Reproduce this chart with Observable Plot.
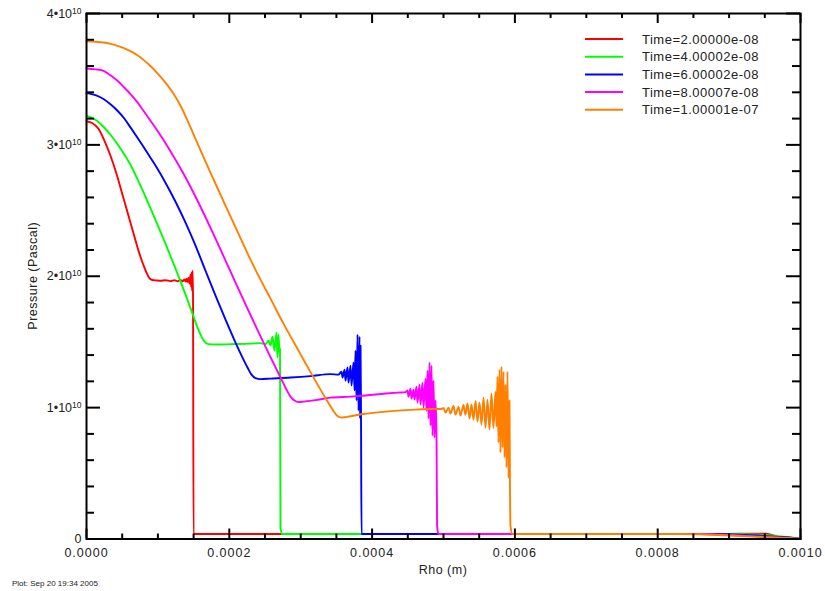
<!DOCTYPE html>
<html><head><meta charset="utf-8">
<script src="https://cdn.jsdelivr.net/npm/d3@7"></script>
<script src="https://cdn.jsdelivr.net/npm/@observablehq/plot@0.6"></script>
<style>
body{margin:0;background:#fff;}
svg text{font-family:"Liberation Sans",Arial,Helvetica,sans-serif;}
</style></head><body><div id="chart"></div>
<script>
// x in micrometres, pressure in GPa
const seriesNames = ["Time=2.00000e-08","Time=4.00002e-08","Time=6.00002e-08","Time=8.00007e-08","Time=1.00001e-07"];
const seriesColors = ["#ff0000","#00ff00","#0000ff","#ff00ff","#ff8000"];

const red = [[0,31.80],[8.4,31.65],[16.8,31.23],[25.2,30.31],[33.6,29.17],[42.0,27.80],[50.4,26.21],[58.8,24.61],[67.2,23.01],[72.8,21.95],[77.0,21.26],[81.2,20.65],[84.0,20.27],[86.8,19.97],[89.6,19.78],[93.8,19.70],[98.0,19.68],[103.6,19.66],[110.6,19.70],[117.6,19.63],[123.3,19.70],[127.5,19.62],[131.7,19.72],[134.5,19.61],[137.3,19.76],[138.7,19.60],[140.1,19.82],[141.5,19.55],[142.9,19.89],[144.3,19.44],[145.7,20.12],[146.4,19.21],[147.1,20.27],[147.8,18.90],[148.5,20.42],[149.2,18.37],[149.9,0.38],[300,0.38],[600,0.38],[860,0.38],[916,0.40],[951,0.41],[962,0.27],[976,0.09],[990,0.03],[1000,0]];

const green = [[0,32.22],[12.6,31.91],[23.8,31.38],[33.6,30.77],[43.4,30.05],[53.2,29.25],[61.6,28.49],[71.4,27.39],[82.6,26.05],[96.6,24.30],[110.6,22.48],[124.7,20.58],[138.7,18.60],[148.5,17.15],[155.5,16.09],[161.1,15.40],[165.3,15.02],[170.9,14.83],[180.7,14.80],[201.7,14.83],[229.7,14.87],[243.7,14.91],[250.7,14.83],[254.9,15.10],[257.7,14.72],[260.5,15.40],[263.3,14.34],[266.1,15.71],[267.5,13.81],[268.9,15.56],[270.3,14.19],[271.0,14.50],[271.7,0.80],[274.5,0.38],[500,0.38],[860,0.38],[902,0.38],[944,0.32],[972,0.20],[993,0.07],[1000,0]];

const blue = [[0,33.96],[12.6,33.78],[23.8,33.49],[33.6,33.09],[43.4,32.60],[53.2,31.99],[61.6,31.33],[71.4,30.54],[79.8,29.85],[89.6,29.02],[99.4,28.18],[110.6,27.12],[124.7,25.67],[138.7,24.08],[152.7,22.33],[166.7,20.42],[180.7,18.52],[194.7,16.70],[208.7,14.95],[218.5,13.81],[225.5,13.05],[231.1,12.51],[236.7,12.25],[243.7,12.17],[257.7,12.21],[285.7,12.29],[313.7,12.40],[341.7,12.55],[352.9,12.51],[357.2,12.74],[358.6,12.29],[361.4,12.89],[362.8,12.06],[365.6,13.05],[367.0,11.90],[369.8,13.20],[371.2,11.68],[374.0,13.43],[375.4,11.30],[376.8,14.34],[378.2,10.54],[379.6,15.56],[381.0,9.77],[382.4,15.40],[383.1,9.17],[383.8,14.72],[384.5,9.01],[385.2,0.38],[600,0.38],[860,0.38],[888,0.38],[923,0.30],[965,0.18],[993,0.06],[1000,0]];

const magenta = [[0,35.81],[12.6,35.75],[23.8,35.64],[33.6,35.30],[43.4,34.88],[53.2,34.35],[61.6,33.87],[71.4,33.24],[79.8,32.60],[89.6,31.84],[99.4,31.07],[117.6,29.52],[135.9,27.80],[152.7,26.05],[166.7,24.49],[180.7,22.86],[194.7,21.19],[208.7,19.51],[225.5,17.53],[240.9,15.75],[257.7,13.84],[271.7,12.29],[280.1,11.37],[285.7,10.84],[291.3,10.54],[296.9,10.42],[303.9,10.46],[320.7,10.57],[341.7,10.76],[369.8,10.84],[390.7,10.92],[418.8,11.07],[435.6,11.14],[446.8,11.18],[449.6,11.30],[451.0,10.84],[453.8,11.45],[455.2,10.69],[458.0,11.37],[459.4,10.61],[462.2,11.60],[463.6,10.38],[466.4,11.75],[467.8,10.23],[470.6,11.90],[472.0,10.00],[474.8,12.21],[476.2,9.77],[477.6,12.82],[479.0,9.17],[480.4,13.43],[481.8,8.63],[483.2,13.20],[484.6,7.87],[486.0,12.06],[487.4,7.72],[488.8,10.54],[490.2,8.00],[491.0,1.00],[493.0,0.38],[700,0.38],[860,0.38],[902,0.30],[951,0.17],[986,0.08],[1000,0]];

const orange = [[0,37.88],[12.6,37.85],[23.8,37.79],[33.6,37.69],[43.4,37.54],[53.2,37.35],[61.6,37.14],[71.4,36.82],[79.8,36.47],[89.6,36.00],[99.4,35.45],[110.6,34.74],[120.5,34.00],[131.7,32.98],[142.9,31.68],[154.1,30.28],[166.7,28.72],[180.7,27.04],[194.7,25.37],[211.5,23.39],[229.7,21.26],[243.7,19.74],[257.7,18.30],[275.9,16.39],[299.7,14.07],[313.7,12.70],[327.7,11.37],[338.9,10.35],[345.9,9.74],[351.5,9.36],[357.2,9.24],[362.8,9.28],[387.9,9.51],[411.8,9.66],[435.6,9.77],[460.8,9.85],[481.8,9.89],[495.8,9.89],[500.0,9.97],[502.8,9.62],[507.0,10.00],[509.8,9.55],[514.0,10.12],[516.8,9.47],[521.0,10.05],[523.8,9.39],[528.0,10.20],[530.8,9.45],[533.6,10.31],[536.4,9.17],[539.2,10.25],[542.0,9.09],[544.8,10.50],[547.6,8.94],[550.4,10.40],[553.2,8.70],[556.0,10.75],[558.8,8.48],[561.6,10.60],[564.4,8.33],[567.2,11.07],[570.0,8.45],[572.8,11.22],[574.2,8.56],[575.6,12.36],[577.0,7.34],[578.4,12.89],[579.8,6.58],[581.2,13.12],[582.6,6.96],[584.0,12.74],[585.4,6.20],[586.8,11.75],[588.2,5.44],[589.6,12.74],[591.0,4.64],[592.4,10.54],[593.1,4.00],[593.8,1.00],[596.7,0.38],[700,0.38],[832,0.38],[888,0.30],[944,0.15],[986,0.06],[1000,0]];

const xMajor = [0, 0.0002, 0.0004, 0.0006, 0.0008, 0.001];
const xMinor = [0.00005,0.0001,0.00015,0.00025,0.0003,0.00035,0.00045,0.0005,0.00055,0.00065,0.0007,0.00075,0.00085,0.0009,0.00095];
const yMajor = [0, 1e10, 2e10, 3e10, 4e10];
const yMinor = [2e9,4e9,6e9,8e9,1.2e10,1.4e10,1.6e10,1.8e10,2.2e10,2.4e10,2.6e10,2.8e10,3.2e10,3.4e10,3.6e10,3.8e10];
const yTickBase = ["0","1•10","2•10","3•10","4•10"];
const yTickExp = ["","10","10","10","10"];

const xTitle = "Rho (m)";
const yTitle = "Pressure (Pascal)";
const caption = "Plot: Sep 20 19:34 2005";

const all = [red, green, blue, magenta, orange];
const rows = all.flatMap((arr, i) => arr.map(([x, p]) => ({series: seriesNames[i], x: x * 1e-6, p: p * 1e9})));

const W = 825, H = 591, mL = 86, mR = 25, mT = 13, mB = 52.5;
const iw = W - mL - mR, ih = H - mT - mB;

const chart = Plot.plot({
  width: W, height: H,
  marginLeft: mL, marginRight: mR, marginTop: mT, marginBottom: mB,
  style: {fontFamily: '"Liberation Sans", Arial, sans-serif', fontSize: "12.5px", color: "#222", background: "#fff"},
  x: {domain: [0, 0.001], label: null},
  y: {domain: [0, 4e10], label: null},
  color: {domain: seriesNames, range: seriesColors},
  marks: [
    Plot.line(rows, {x: "x", y: "p", z: "series", stroke: "series", strokeWidth: 1.9, curve: "monotone-x"}),
    Plot.tickX(xMajor, {x: d => d, insetTop: ih - 10, stroke: "#000", strokeWidth: 2}),
    Plot.tickX(xMinor, {x: d => d, insetTop: ih - 5, stroke: "#000", strokeWidth: 2}),
    Plot.tickX(xMajor, {x: d => d, insetBottom: ih - 10, stroke: "#000", strokeWidth: 2}),
    Plot.tickX(xMinor, {x: d => d, insetBottom: ih - 5, stroke: "#000", strokeWidth: 2}),
    Plot.tickY(yMajor, {y: d => d, insetRight: iw - 14, stroke: "#000", strokeWidth: 2}),
    Plot.tickY(yMinor, {y: d => d, insetRight: iw - 8, stroke: "#000", strokeWidth: 2}),
    Plot.tickY(yMajor, {y: d => d, insetLeft: iw - 14, stroke: "#000", strokeWidth: 2}),
    Plot.tickY(yMinor, {y: d => d, insetLeft: iw - 8, stroke: "#000", strokeWidth: 2}),
    Plot.axisX(xMajor, {tickSize: 0, tickPadding: 9, tickFormat: d => d.toFixed(4), fill: "#222"}),
    Plot.axisY(yMajor, {tickSize: 0, tickPadding: 5, tickFormat: d => yTickBase[yMajor.indexOf(d)], fill: "#222"}),
    Plot.frame({stroke: "#000", strokeWidth: 2})
  ]
});

document.getElementById("chart").appendChild(chart);
const svg = d3.select(chart);
svg.selectAll('g[aria-label="x-axis tick label"] text').attr("letter-spacing", "1px");
svg.selectAll('g[aria-label="y-axis tick label"] text').each(function () {
  const t = d3.select(this);
  const base = t.text();
  const i = yTickBase.indexOf(base);
  if (i > 0 && yTickExp[i]) {
    t.text(null);
    t.append("tspan").text(base);
    t.append("tspan").attr("dy", "-0.45em").attr("font-size", 8.5).text(yTickExp[i]);
  }
});

svg.append("text").attr("x", mL + iw / 2).attr("y", 574).attr("text-anchor", "middle")
  .attr("font-size", 12.5).attr("letter-spacing", "0.5px").attr("fill", "#222").text(xTitle);
svg.append("text").attr("transform", `translate(37,${mT + ih / 2}) rotate(-90)`).attr("text-anchor", "middle")
  .attr("font-size", 12.5).attr("letter-spacing", "0.5px").attr("fill", "#222").text(yTitle);
svg.append("text").attr("x", 12).attr("y", 586).attr("text-anchor", "start").attr("font-size", 8).attr("fill", "#222").text(caption);

const lg = svg.append("g");
seriesNames.forEach((n, i) => {
  const y = 39 + i * 17.7;
  lg.append("line").attr("x1", 585).attr("x2", 623).attr("y1", y).attr("y2", y)
    .attr("stroke", seriesColors[i]).attr("stroke-width", 2);
  lg.append("text").attr("x", 642).attr("y", y).attr("dy", "0.35em").attr("text-anchor", "start")
    .attr("font-size", 13).attr("letter-spacing", "0.5px").attr("fill", "#222").text(n);
});
</script></body></html>
